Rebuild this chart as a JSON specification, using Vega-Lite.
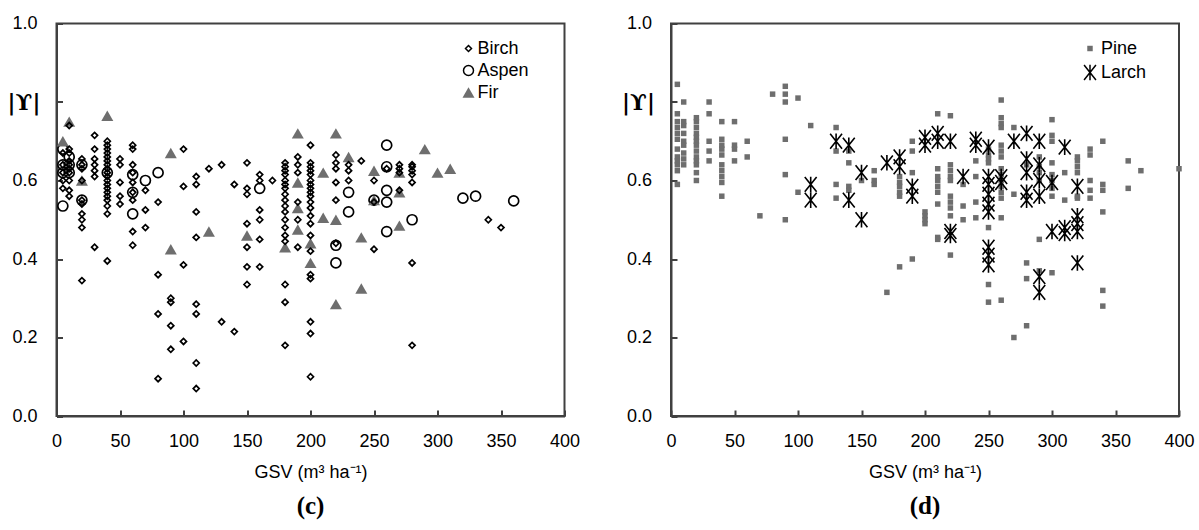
{
  "$schema": "https://vega.github.io/schema/vega-lite/v6.json",
  "background": "white",
  "padding": {"left": 5.5, "top": 13.5, "right": 0, "bottom": 0},
  "bounds": "flush",
  "spacing": 106.5,
  "resolve": {
    "scale": {"x": "independent", "y": "independent", "shape": "independent", "fill": "independent", "stroke": "independent", "size": "independent"},
    "legend": {"shape": "independent", "fill": "independent", "stroke": "independent", "size": "independent"}
  },
  "config": {
    "font": "Liberation Sans",
    "view": {"stroke": "#404040", "strokeWidth": 2},
    "axis": {
      "grid": false,
      "labelFlush": false,
      "domainColor": "#404040",
      "domainWidth": 2,
      "tickColor": "#404040",
      "tickWidth": 2,
      "tickSize": -6,
      "labelFont": "Liberation Sans",
      "labelFontSize": 18,
      "labelColor": "black",
      "titleFont": "Liberation Sans",
      "titleFontSize": 18,
      "titleFontWeight": "normal",
      "titleColor": "black"
    }
  },
  "hconcat": [
    {
      "width": 508,
      "height": 392.5,
      "title": {"text": "(c)", "orient": "bottom", "font": "Liberation Serif", "fontSize": 25, "fontWeight": "bold", "color": "black", "offset": 13, "anchor": "middle"},
      "data": {"values": [
        {"gsv":5,"r":0.68,"species":"Aspen"},{"gsv":5,"r":0.64,"species":"Aspen"},{"gsv":5,"r":0.62,"species":"Aspen"},{"gsv":5,"r":0.535,"species":"Aspen"},
        {"gsv":10,"r":0.66,"species":"Aspen"},{"gsv":10,"r":0.64,"species":"Aspen"},{"gsv":10,"r":0.62,"species":"Aspen"},
        {"gsv":20,"r":0.64,"species":"Aspen"},{"gsv":20,"r":0.55,"species":"Aspen"},{"gsv":40,"r":0.62,"species":"Aspen"},
        {"gsv":60,"r":0.615,"species":"Aspen"},{"gsv":60,"r":0.57,"species":"Aspen"},{"gsv":60,"r":0.515,"species":"Aspen"},
        {"gsv":70,"r":0.6,"species":"Aspen"},{"gsv":80,"r":0.62,"species":"Aspen"},{"gsv":160,"r":0.58,"species":"Aspen"},
        {"gsv":220,"r":0.435,"species":"Aspen"},{"gsv":220,"r":0.39,"species":"Aspen"},{"gsv":230,"r":0.57,"species":"Aspen"},{"gsv":230,"r":0.52,"species":"Aspen"},
        {"gsv":250,"r":0.55,"species":"Aspen"},{"gsv":260,"r":0.69,"species":"Aspen"},{"gsv":260,"r":0.635,"species":"Aspen"},{"gsv":260,"r":0.575,"species":"Aspen"},
        {"gsv":260,"r":0.545,"species":"Aspen"},{"gsv":260,"r":0.47,"species":"Aspen"},{"gsv":280,"r":0.5,"species":"Aspen"},
        {"gsv":320,"r":0.555,"species":"Aspen"},{"gsv":330,"r":0.56,"species":"Aspen"},{"gsv":360,"r":0.548,"species":"Aspen"},

        {"gsv":5,"r":0.70,"species":"Fir"},{"gsv":10,"r":0.75,"species":"Fir"},{"gsv":20,"r":0.60,"species":"Fir"},{"gsv":40,"r":0.765,"species":"Fir"},
        {"gsv":90,"r":0.67,"species":"Fir"},{"gsv":90,"r":0.425,"species":"Fir"},{"gsv":120,"r":0.47,"species":"Fir"},{"gsv":150,"r":0.46,"species":"Fir"},
        {"gsv":180,"r":0.43,"species":"Fir"},{"gsv":190,"r":0.72,"species":"Fir"},{"gsv":190,"r":0.595,"species":"Fir"},{"gsv":190,"r":0.53,"species":"Fir"},
        {"gsv":190,"r":0.475,"species":"Fir"},{"gsv":200,"r":0.44,"species":"Fir"},{"gsv":200,"r":0.39,"species":"Fir"},{"gsv":210,"r":0.62,"species":"Fir"},
        {"gsv":210,"r":0.505,"species":"Fir"},{"gsv":220,"r":0.72,"species":"Fir"},{"gsv":220,"r":0.50,"species":"Fir"},{"gsv":220,"r":0.285,"species":"Fir"},
        {"gsv":230,"r":0.66,"species":"Fir"},{"gsv":240,"r":0.455,"species":"Fir"},{"gsv":240,"r":0.325,"species":"Fir"},{"gsv":250,"r":0.625,"species":"Fir"},
        {"gsv":250,"r":0.55,"species":"Fir"},{"gsv":270,"r":0.62,"species":"Fir"},{"gsv":270,"r":0.57,"species":"Fir"},{"gsv":270,"r":0.485,"species":"Fir"},
        {"gsv":290,"r":0.68,"species":"Fir"},{"gsv":300,"r":0.62,"species":"Fir"},{"gsv":310,"r":0.63,"species":"Fir"},

        {"gsv":5,"r":0.67,"species":"Birch"},{"gsv":5,"r":0.64,"species":"Birch"},{"gsv":5,"r":0.62,"species":"Birch"},{"gsv":5,"r":0.60,"species":"Birch"},{"gsv":5,"r":0.58,"species":"Birch"},
        {"gsv":10,"r":0.74,"species":"Birch"},{"gsv":10,"r":0.68,"species":"Birch"},{"gsv":10,"r":0.67,"species":"Birch"},{"gsv":10,"r":0.65,"species":"Birch"},{"gsv":10,"r":0.64,"species":"Birch"},
        {"gsv":10,"r":0.63,"species":"Birch"},{"gsv":10,"r":0.62,"species":"Birch"},{"gsv":10,"r":0.60,"species":"Birch"},{"gsv":10,"r":0.575,"species":"Birch"},{"gsv":10,"r":0.56,"species":"Birch"},
        {"gsv":20,"r":0.655,"species":"Birch"},{"gsv":20,"r":0.64,"species":"Birch"},{"gsv":20,"r":0.63,"species":"Birch"},{"gsv":20,"r":0.60,"species":"Birch"},{"gsv":20,"r":0.55,"species":"Birch"},
        {"gsv":20,"r":0.54,"species":"Birch"},{"gsv":20,"r":0.515,"species":"Birch"},{"gsv":20,"r":0.50,"species":"Birch"},{"gsv":20,"r":0.48,"species":"Birch"},{"gsv":20,"r":0.345,"species":"Birch"},
        {"gsv":30,"r":0.715,"species":"Birch"},{"gsv":30,"r":0.68,"species":"Birch"},{"gsv":30,"r":0.655,"species":"Birch"},{"gsv":30,"r":0.64,"species":"Birch"},{"gsv":30,"r":0.625,"species":"Birch"},
        {"gsv":30,"r":0.61,"species":"Birch"},{"gsv":30,"r":0.43,"species":"Birch"},
        {"gsv":40,"r":0.70,"species":"Birch"},{"gsv":40,"r":0.69,"species":"Birch"},{"gsv":40,"r":0.68,"species":"Birch"},{"gsv":40,"r":0.67,"species":"Birch"},{"gsv":40,"r":0.66,"species":"Birch"},
        {"gsv":40,"r":0.65,"species":"Birch"},{"gsv":40,"r":0.64,"species":"Birch"},{"gsv":40,"r":0.63,"species":"Birch"},{"gsv":40,"r":0.62,"species":"Birch"},{"gsv":40,"r":0.61,"species":"Birch"},
        {"gsv":40,"r":0.60,"species":"Birch"},{"gsv":40,"r":0.59,"species":"Birch"},{"gsv":40,"r":0.58,"species":"Birch"},{"gsv":40,"r":0.57,"species":"Birch"},{"gsv":40,"r":0.56,"species":"Birch"},
        {"gsv":40,"r":0.55,"species":"Birch"},{"gsv":40,"r":0.535,"species":"Birch"},{"gsv":40,"r":0.515,"species":"Birch"},{"gsv":40,"r":0.395,"species":"Birch"},
        {"gsv":50,"r":0.655,"species":"Birch"},{"gsv":50,"r":0.64,"species":"Birch"},{"gsv":50,"r":0.595,"species":"Birch"},{"gsv":50,"r":0.56,"species":"Birch"},{"gsv":50,"r":0.54,"species":"Birch"},
        {"gsv":60,"r":0.69,"species":"Birch"},{"gsv":60,"r":0.68,"species":"Birch"},{"gsv":60,"r":0.64,"species":"Birch"},{"gsv":60,"r":0.62,"species":"Birch"},{"gsv":60,"r":0.595,"species":"Birch"},
        {"gsv":60,"r":0.57,"species":"Birch"},{"gsv":60,"r":0.55,"species":"Birch"},{"gsv":60,"r":0.47,"species":"Birch"},{"gsv":60,"r":0.435,"species":"Birch"},
        {"gsv":70,"r":0.575,"species":"Birch"},{"gsv":70,"r":0.525,"species":"Birch"},{"gsv":70,"r":0.48,"species":"Birch"},
        {"gsv":80,"r":0.545,"species":"Birch"},{"gsv":80,"r":0.36,"species":"Birch"},{"gsv":80,"r":0.26,"species":"Birch"},{"gsv":80,"r":0.095,"species":"Birch"},
        {"gsv":90,"r":0.30,"species":"Birch"},{"gsv":90,"r":0.29,"species":"Birch"},{"gsv":90,"r":0.23,"species":"Birch"},{"gsv":90,"r":0.17,"species":"Birch"},
        {"gsv":100,"r":0.68,"species":"Birch"},{"gsv":100,"r":0.585,"species":"Birch"},{"gsv":100,"r":0.385,"species":"Birch"},{"gsv":100,"r":0.19,"species":"Birch"},
        {"gsv":110,"r":0.61,"species":"Birch"},{"gsv":110,"r":0.59,"species":"Birch"},{"gsv":110,"r":0.52,"species":"Birch"},{"gsv":110,"r":0.455,"species":"Birch"},
        {"gsv":110,"r":0.285,"species":"Birch"},{"gsv":110,"r":0.26,"species":"Birch"},{"gsv":110,"r":0.135,"species":"Birch"},{"gsv":110,"r":0.07,"species":"Birch"},
        {"gsv":120,"r":0.63,"species":"Birch"},{"gsv":130,"r":0.64,"species":"Birch"},{"gsv":130,"r":0.24,"species":"Birch"},{"gsv":140,"r":0.59,"species":"Birch"},{"gsv":140,"r":0.215,"species":"Birch"},
        {"gsv":150,"r":0.645,"species":"Birch"},{"gsv":150,"r":0.58,"species":"Birch"},{"gsv":150,"r":0.565,"species":"Birch"},{"gsv":150,"r":0.49,"species":"Birch"},
        {"gsv":150,"r":0.43,"species":"Birch"},{"gsv":150,"r":0.38,"species":"Birch"},{"gsv":150,"r":0.335,"species":"Birch"},
        {"gsv":160,"r":0.615,"species":"Birch"},{"gsv":160,"r":0.60,"species":"Birch"},{"gsv":160,"r":0.525,"species":"Birch"},{"gsv":160,"r":0.50,"species":"Birch"},
        {"gsv":160,"r":0.45,"species":"Birch"},{"gsv":160,"r":0.38,"species":"Birch"},{"gsv":170,"r":0.60,"species":"Birch"},
        {"gsv":180,"r":0.645,"species":"Birch"},{"gsv":180,"r":0.635,"species":"Birch"},{"gsv":180,"r":0.625,"species":"Birch"},{"gsv":180,"r":0.615,"species":"Birch"},
        {"gsv":180,"r":0.60,"species":"Birch"},{"gsv":180,"r":0.59,"species":"Birch"},{"gsv":180,"r":0.58,"species":"Birch"},{"gsv":180,"r":0.565,"species":"Birch"},
        {"gsv":180,"r":0.55,"species":"Birch"},{"gsv":180,"r":0.535,"species":"Birch"},{"gsv":180,"r":0.52,"species":"Birch"},{"gsv":180,"r":0.50,"species":"Birch"},
        {"gsv":180,"r":0.48,"species":"Birch"},{"gsv":180,"r":0.46,"species":"Birch"},{"gsv":180,"r":0.445,"species":"Birch"},{"gsv":180,"r":0.335,"species":"Birch"},
        {"gsv":180,"r":0.29,"species":"Birch"},{"gsv":180,"r":0.18,"species":"Birch"},
        {"gsv":190,"r":0.66,"species":"Birch"},{"gsv":190,"r":0.64,"species":"Birch"},{"gsv":190,"r":0.62,"species":"Birch"},{"gsv":190,"r":0.545,"species":"Birch"},
        {"gsv":190,"r":0.50,"species":"Birch"},{"gsv":190,"r":0.43,"species":"Birch"},
        {"gsv":200,"r":0.69,"species":"Birch"},{"gsv":200,"r":0.645,"species":"Birch"},{"gsv":200,"r":0.635,"species":"Birch"},{"gsv":200,"r":0.625,"species":"Birch"},
        {"gsv":200,"r":0.615,"species":"Birch"},{"gsv":200,"r":0.60,"species":"Birch"},{"gsv":200,"r":0.59,"species":"Birch"},{"gsv":200,"r":0.58,"species":"Birch"},
        {"gsv":200,"r":0.57,"species":"Birch"},{"gsv":200,"r":0.56,"species":"Birch"},{"gsv":200,"r":0.545,"species":"Birch"},{"gsv":200,"r":0.53,"species":"Birch"},
        {"gsv":200,"r":0.51,"species":"Birch"},{"gsv":200,"r":0.49,"species":"Birch"},{"gsv":200,"r":0.46,"species":"Birch"},{"gsv":200,"r":0.42,"species":"Birch"},
        {"gsv":200,"r":0.36,"species":"Birch"},{"gsv":200,"r":0.35,"species":"Birch"},{"gsv":200,"r":0.24,"species":"Birch"},{"gsv":200,"r":0.21,"species":"Birch"},
        {"gsv":200,"r":0.10,"species":"Birch"},
        {"gsv":220,"r":0.665,"species":"Birch"},{"gsv":220,"r":0.645,"species":"Birch"},{"gsv":220,"r":0.63,"species":"Birch"},{"gsv":220,"r":0.595,"species":"Birch"},
        {"gsv":220,"r":0.55,"species":"Birch"},{"gsv":220,"r":0.44,"species":"Birch"},
        {"gsv":230,"r":0.64,"species":"Birch"},{"gsv":230,"r":0.625,"species":"Birch"},{"gsv":230,"r":0.60,"species":"Birch"},{"gsv":240,"r":0.65,"species":"Birch"},
        {"gsv":250,"r":0.60,"species":"Birch"},{"gsv":250,"r":0.545,"species":"Birch"},{"gsv":250,"r":0.425,"species":"Birch"},{"gsv":260,"r":0.63,"species":"Birch"},
        {"gsv":270,"r":0.64,"species":"Birch"},{"gsv":270,"r":0.63,"species":"Birch"},{"gsv":270,"r":0.62,"species":"Birch"},{"gsv":270,"r":0.575,"species":"Birch"},
        {"gsv":280,"r":0.64,"species":"Birch"},{"gsv":280,"r":0.635,"species":"Birch"},{"gsv":280,"r":0.625,"species":"Birch"},{"gsv":280,"r":0.615,"species":"Birch"},
        {"gsv":280,"r":0.595,"species":"Birch"},{"gsv":280,"r":0.39,"species":"Birch"},{"gsv":280,"r":0.18,"species":"Birch"},
        {"gsv":340,"r":0.50,"species":"Birch"},{"gsv":350,"r":0.48,"species":"Birch"}
      ]},
      "mark": {"type": "point", "filled": true, "strokeWidth": 1.7, "opacity": 1},
      "encoding": {
        "x": {"field": "gsv", "type": "quantitative", "scale": {"domain": [0, 400], "nice": false},
              "axis": {"values": [0, 50, 100, 150, 200, 250, 300, 350, 400], "title": "GSV (m³ ha⁻¹)", "labelPadding": 22, "titlePadding": 13}},
        "y": {"field": "r", "type": "quantitative", "scale": {"domain": [0, 1], "nice": false},
              "axis": {"values": [0, 0.2, 0.4, 0.6, 0.8, 1], "labelExpr": "abs(datum.value - 0.8) < 0.01 ? '' : format(datum.value, '.1f')", "labelPadding": 25.5,
                       "title": "|ϒ|", "titleAngle": 0, "titleX": -33, "titleY": 79, "titleAlign": "center", "titleBaseline": "middle",
                       "titleFont": "DejaVu Serif", "titleFontWeight": "bold", "titleFontSize": 22}},
        "shape": {"field": "species", "type": "nominal", "scale": {"domain": ["Birch", "Aspen", "Fir"], "range": ["diamond", "circle", "triangle-up"]},
                  "legend": {"title": null, "orient": "none", "legendX": 403, "legendY": 16, "labelFontSize": 18, "labelFont": "Liberation Sans", "labelColor": "black", "rowPadding": 4, "symbolStrokeWidth": 1.5, "labelOffset": 0, "padding": 0}},
        "fill": {"field": "species", "type": "nominal", "scale": {"domain": ["Birch", "Aspen", "Fir"], "range": ["transparent", "transparent", "#6e6e6e"]}},
        "stroke": {"field": "species", "type": "nominal", "scale": {"domain": ["Birch", "Aspen", "Fir"], "range": ["#000000", "#000000", "transparent"]}},
        "size": {"field": "species", "type": "nominal", "scale": {"type": "ordinal", "domain": ["Birch", "Aspen", "Fir"], "range": [36, 100, 144]}}
      }
    },
    {
      "width": 508,
      "height": 392.5,
      "title": {"text": "(d)", "orient": "bottom", "font": "Liberation Serif", "fontSize": 25, "fontWeight": "bold", "color": "black", "offset": 13, "anchor": "middle"},
      "data": {"values": [
        {"gsv":5,"r":0.845,"species":"Pine"},{"gsv":5,"r":0.77,"species":"Pine"},{"gsv":5,"r":0.75,"species":"Pine"},{"gsv":5,"r":0.735,"species":"Pine"},{"gsv":5,"r":0.72,"species":"Pine"},
        {"gsv":5,"r":0.705,"species":"Pine"},{"gsv":5,"r":0.68,"species":"Pine"},{"gsv":5,"r":0.66,"species":"Pine"},{"gsv":5,"r":0.65,"species":"Pine"},{"gsv":5,"r":0.64,"species":"Pine"},
        {"gsv":5,"r":0.625,"species":"Pine"},{"gsv":5,"r":0.59,"species":"Pine"},
        {"gsv":10,"r":0.80,"species":"Pine"},{"gsv":10,"r":0.75,"species":"Pine"},{"gsv":10,"r":0.74,"species":"Pine"},{"gsv":10,"r":0.72,"species":"Pine"},{"gsv":10,"r":0.70,"species":"Pine"},
        {"gsv":10,"r":0.69,"species":"Pine"},{"gsv":10,"r":0.67,"species":"Pine"},{"gsv":10,"r":0.655,"species":"Pine"},{"gsv":10,"r":0.64,"species":"Pine"},
        {"gsv":20,"r":0.76,"species":"Pine"},{"gsv":20,"r":0.75,"species":"Pine"},{"gsv":20,"r":0.735,"species":"Pine"},{"gsv":20,"r":0.72,"species":"Pine"},{"gsv":20,"r":0.71,"species":"Pine"},
        {"gsv":20,"r":0.70,"species":"Pine"},{"gsv":20,"r":0.69,"species":"Pine"},{"gsv":20,"r":0.675,"species":"Pine"},{"gsv":20,"r":0.66,"species":"Pine"},{"gsv":20,"r":0.65,"species":"Pine"},
        {"gsv":20,"r":0.64,"species":"Pine"},{"gsv":20,"r":0.62,"species":"Pine"},{"gsv":20,"r":0.60,"species":"Pine"},
        {"gsv":30,"r":0.80,"species":"Pine"},{"gsv":30,"r":0.77,"species":"Pine"},{"gsv":30,"r":0.70,"species":"Pine"},{"gsv":30,"r":0.675,"species":"Pine"},{"gsv":30,"r":0.65,"species":"Pine"},
        {"gsv":40,"r":0.75,"species":"Pine"},{"gsv":40,"r":0.705,"species":"Pine"},{"gsv":40,"r":0.69,"species":"Pine"},{"gsv":40,"r":0.68,"species":"Pine"},{"gsv":40,"r":0.665,"species":"Pine"},
        {"gsv":40,"r":0.64,"species":"Pine"},{"gsv":40,"r":0.625,"species":"Pine"},{"gsv":40,"r":0.61,"species":"Pine"},{"gsv":40,"r":0.595,"species":"Pine"},{"gsv":40,"r":0.56,"species":"Pine"},
        {"gsv":50,"r":0.75,"species":"Pine"},{"gsv":50,"r":0.69,"species":"Pine"},{"gsv":50,"r":0.68,"species":"Pine"},{"gsv":50,"r":0.65,"species":"Pine"},
        {"gsv":60,"r":0.70,"species":"Pine"},{"gsv":60,"r":0.66,"species":"Pine"},{"gsv":70,"r":0.51,"species":"Pine"},{"gsv":80,"r":0.82,"species":"Pine"},
        {"gsv":90,"r":0.84,"species":"Pine"},{"gsv":90,"r":0.82,"species":"Pine"},{"gsv":90,"r":0.80,"species":"Pine"},{"gsv":90,"r":0.705,"species":"Pine"},{"gsv":90,"r":0.615,"species":"Pine"},{"gsv":90,"r":0.50,"species":"Pine"},
        {"gsv":100,"r":0.81,"species":"Pine"},{"gsv":100,"r":0.57,"species":"Pine"},{"gsv":110,"r":0.74,"species":"Pine"},
        {"gsv":130,"r":0.735,"species":"Pine"},{"gsv":130,"r":0.675,"species":"Pine"},{"gsv":130,"r":0.59,"species":"Pine"},{"gsv":130,"r":0.555,"species":"Pine"},
        {"gsv":140,"r":0.675,"species":"Pine"},{"gsv":140,"r":0.645,"species":"Pine"},{"gsv":140,"r":0.585,"species":"Pine"},{"gsv":140,"r":0.575,"species":"Pine"},
        {"gsv":150,"r":0.60,"species":"Pine"},{"gsv":160,"r":0.625,"species":"Pine"},{"gsv":160,"r":0.60,"species":"Pine"},{"gsv":160,"r":0.59,"species":"Pine"},{"gsv":170,"r":0.315,"species":"Pine"},
        {"gsv":180,"r":0.61,"species":"Pine"},{"gsv":180,"r":0.595,"species":"Pine"},{"gsv":180,"r":0.585,"species":"Pine"},{"gsv":180,"r":0.57,"species":"Pine"},{"gsv":180,"r":0.56,"species":"Pine"},{"gsv":180,"r":0.38,"species":"Pine"},
        {"gsv":190,"r":0.70,"species":"Pine"},{"gsv":190,"r":0.675,"species":"Pine"},{"gsv":190,"r":0.62,"species":"Pine"},{"gsv":190,"r":0.40,"species":"Pine"},
        {"gsv":200,"r":0.52,"species":"Pine"},{"gsv":200,"r":0.51,"species":"Pine"},{"gsv":200,"r":0.50,"species":"Pine"},{"gsv":200,"r":0.49,"species":"Pine"},
        {"gsv":210,"r":0.77,"species":"Pine"},{"gsv":210,"r":0.63,"species":"Pine"},{"gsv":210,"r":0.61,"species":"Pine"},{"gsv":210,"r":0.60,"species":"Pine"},{"gsv":210,"r":0.585,"species":"Pine"},
        {"gsv":210,"r":0.57,"species":"Pine"},{"gsv":210,"r":0.54,"species":"Pine"},{"gsv":210,"r":0.455,"species":"Pine"},{"gsv":210,"r":0.45,"species":"Pine"},
        {"gsv":220,"r":0.765,"species":"Pine"},{"gsv":220,"r":0.64,"species":"Pine"},{"gsv":220,"r":0.625,"species":"Pine"},{"gsv":220,"r":0.61,"species":"Pine"},{"gsv":220,"r":0.60,"species":"Pine"},
        {"gsv":220,"r":0.56,"species":"Pine"},{"gsv":220,"r":0.545,"species":"Pine"},{"gsv":220,"r":0.53,"species":"Pine"},{"gsv":220,"r":0.51,"species":"Pine"},{"gsv":220,"r":0.41,"species":"Pine"},
        {"gsv":230,"r":0.59,"species":"Pine"},{"gsv":230,"r":0.535,"species":"Pine"},{"gsv":230,"r":0.50,"species":"Pine"},
        {"gsv":240,"r":0.65,"species":"Pine"},{"gsv":240,"r":0.61,"species":"Pine"},{"gsv":240,"r":0.545,"species":"Pine"},{"gsv":240,"r":0.505,"species":"Pine"},
        {"gsv":250,"r":0.68,"species":"Pine"},{"gsv":250,"r":0.665,"species":"Pine"},{"gsv":250,"r":0.655,"species":"Pine"},{"gsv":250,"r":0.645,"species":"Pine"},{"gsv":250,"r":0.48,"species":"Pine"},
        {"gsv":250,"r":0.335,"species":"Pine"},{"gsv":250,"r":0.29,"species":"Pine"},
        {"gsv":260,"r":0.805,"species":"Pine"},{"gsv":260,"r":0.76,"species":"Pine"},{"gsv":260,"r":0.745,"species":"Pine"},{"gsv":260,"r":0.735,"species":"Pine"},{"gsv":260,"r":0.69,"species":"Pine"},
        {"gsv":260,"r":0.675,"species":"Pine"},{"gsv":260,"r":0.66,"species":"Pine"},{"gsv":260,"r":0.63,"species":"Pine"},{"gsv":260,"r":0.615,"species":"Pine"},{"gsv":260,"r":0.60,"species":"Pine"},
        {"gsv":260,"r":0.585,"species":"Pine"},{"gsv":260,"r":0.57,"species":"Pine"},{"gsv":260,"r":0.555,"species":"Pine"},{"gsv":260,"r":0.505,"species":"Pine"},{"gsv":260,"r":0.295,"species":"Pine"},
        {"gsv":270,"r":0.735,"species":"Pine"},{"gsv":270,"r":0.565,"species":"Pine"},{"gsv":270,"r":0.20,"species":"Pine"},
        {"gsv":280,"r":0.64,"species":"Pine"},{"gsv":280,"r":0.39,"species":"Pine"},{"gsv":280,"r":0.35,"species":"Pine"},{"gsv":280,"r":0.23,"species":"Pine"},
        {"gsv":290,"r":0.66,"species":"Pine"},{"gsv":290,"r":0.635,"species":"Pine"},{"gsv":290,"r":0.62,"species":"Pine"},{"gsv":290,"r":0.60,"species":"Pine"},{"gsv":290,"r":0.45,"species":"Pine"},{"gsv":290,"r":0.37,"species":"Pine"},
        {"gsv":300,"r":0.755,"species":"Pine"},{"gsv":300,"r":0.715,"species":"Pine"},{"gsv":300,"r":0.70,"species":"Pine"},{"gsv":300,"r":0.645,"species":"Pine"},{"gsv":300,"r":0.615,"species":"Pine"},
        {"gsv":300,"r":0.60,"species":"Pine"},{"gsv":300,"r":0.58,"species":"Pine"},{"gsv":300,"r":0.56,"species":"Pine"},{"gsv":300,"r":0.365,"species":"Pine"},
        {"gsv":310,"r":0.62,"species":"Pine"},{"gsv":310,"r":0.55,"species":"Pine"},
        {"gsv":320,"r":0.66,"species":"Pine"},{"gsv":320,"r":0.65,"species":"Pine"},{"gsv":320,"r":0.635,"species":"Pine"},{"gsv":320,"r":0.62,"species":"Pine"},{"gsv":320,"r":0.56,"species":"Pine"},{"gsv":320,"r":0.555,"species":"Pine"},
        {"gsv":330,"r":0.68,"species":"Pine"},{"gsv":330,"r":0.665,"species":"Pine"},{"gsv":330,"r":0.60,"species":"Pine"},{"gsv":330,"r":0.575,"species":"Pine"},{"gsv":330,"r":0.555,"species":"Pine"},
        {"gsv":340,"r":0.70,"species":"Pine"},{"gsv":340,"r":0.59,"species":"Pine"},{"gsv":340,"r":0.575,"species":"Pine"},{"gsv":340,"r":0.52,"species":"Pine"},{"gsv":340,"r":0.32,"species":"Pine"},{"gsv":340,"r":0.28,"species":"Pine"},
        {"gsv":360,"r":0.65,"species":"Pine"},{"gsv":360,"r":0.58,"species":"Pine"},{"gsv":370,"r":0.625,"species":"Pine"},{"gsv":400,"r":0.63,"species":"Pine"},

        {"gsv":110,"r":0.59,"species":"Larch"},{"gsv":110,"r":0.55,"species":"Larch"},{"gsv":130,"r":0.70,"species":"Larch"},{"gsv":140,"r":0.69,"species":"Larch"},{"gsv":140,"r":0.55,"species":"Larch"},
        {"gsv":150,"r":0.62,"species":"Larch"},{"gsv":150,"r":0.50,"species":"Larch"},{"gsv":170,"r":0.645,"species":"Larch"},{"gsv":180,"r":0.66,"species":"Larch"},{"gsv":180,"r":0.635,"species":"Larch"},
        {"gsv":190,"r":0.585,"species":"Larch"},{"gsv":190,"r":0.56,"species":"Larch"},{"gsv":200,"r":0.71,"species":"Larch"},{"gsv":200,"r":0.69,"species":"Larch"},{"gsv":210,"r":0.72,"species":"Larch"},
        {"gsv":210,"r":0.70,"species":"Larch"},{"gsv":220,"r":0.70,"species":"Larch"},{"gsv":220,"r":0.47,"species":"Larch"},{"gsv":220,"r":0.46,"species":"Larch"},{"gsv":230,"r":0.61,"species":"Larch"},
        {"gsv":240,"r":0.705,"species":"Larch"},{"gsv":240,"r":0.69,"species":"Larch"},{"gsv":250,"r":0.685,"species":"Larch"},{"gsv":250,"r":0.61,"species":"Larch"},{"gsv":250,"r":0.59,"species":"Larch"},
        {"gsv":250,"r":0.565,"species":"Larch"},{"gsv":250,"r":0.54,"species":"Larch"},{"gsv":250,"r":0.52,"species":"Larch"},{"gsv":250,"r":0.43,"species":"Larch"},{"gsv":250,"r":0.41,"species":"Larch"},
        {"gsv":250,"r":0.385,"species":"Larch"},{"gsv":260,"r":0.61,"species":"Larch"},{"gsv":260,"r":0.595,"species":"Larch"},{"gsv":270,"r":0.70,"species":"Larch"},{"gsv":280,"r":0.72,"species":"Larch"},
        {"gsv":280,"r":0.655,"species":"Larch"},{"gsv":280,"r":0.62,"species":"Larch"},{"gsv":280,"r":0.57,"species":"Larch"},{"gsv":280,"r":0.55,"species":"Larch"},{"gsv":290,"r":0.70,"species":"Larch"},
        {"gsv":290,"r":0.64,"species":"Larch"},{"gsv":290,"r":0.60,"species":"Larch"},{"gsv":290,"r":0.56,"species":"Larch"},{"gsv":290,"r":0.355,"species":"Larch"},{"gsv":290,"r":0.315,"species":"Larch"},
        {"gsv":300,"r":0.595,"species":"Larch"},{"gsv":300,"r":0.47,"species":"Larch"},{"gsv":310,"r":0.685,"species":"Larch"},{"gsv":310,"r":0.48,"species":"Larch"},{"gsv":310,"r":0.465,"species":"Larch"},
        {"gsv":320,"r":0.585,"species":"Larch"},{"gsv":320,"r":0.51,"species":"Larch"},{"gsv":320,"r":0.49,"species":"Larch"},{"gsv":320,"r":0.47,"species":"Larch"},{"gsv":320,"r":0.39,"species":"Larch"}
      ]},
      "mark": {"type": "point", "filled": true, "strokeWidth": 1.6, "opacity": 1},
      "encoding": {
        "x": {"field": "gsv", "type": "quantitative", "scale": {"domain": [0, 400], "nice": false},
              "axis": {"values": [0, 50, 100, 150, 200, 250, 300, 350, 400], "title": "GSV (m³ ha⁻¹)", "labelPadding": 22, "titlePadding": 13}},
        "y": {"field": "r", "type": "quantitative", "scale": {"domain": [0, 1], "nice": false},
              "axis": {"values": [0, 0.2, 0.4, 0.6, 0.8, 1], "labelExpr": "abs(datum.value - 0.8) < 0.01 ? '' : format(datum.value, '.1f')", "labelPadding": 25.5,
                       "title": "|ϒ|", "titleAngle": 0, "titleX": -33, "titleY": 79, "titleAlign": "center", "titleBaseline": "middle",
                       "titleFont": "DejaVu Serif", "titleFontWeight": "bold", "titleFontSize": 22}},
        "shape": {"field": "species", "type": "nominal", "scale": {"domain": ["Pine", "Larch"], "range": ["square", "M-0.8,-1L0.8,1M-0.8,1L0.8,-1M0,-1.05L0,1.05"]},
                  "legend": {"title": null, "orient": "none", "legendX": 410, "legendY": 16, "labelFontSize": 18, "labelFont": "Liberation Sans", "labelColor": "black", "rowPadding": 4, "symbolStrokeWidth": 1.5, "labelOffset": 2, "padding": 0}},
        "fill": {"field": "species", "type": "nominal", "scale": {"domain": ["Pine", "Larch"], "range": ["#6e6e6e", "transparent"]}},
        "stroke": {"field": "species", "type": "nominal", "scale": {"domain": ["Pine", "Larch"], "range": ["transparent", "#000000"]}},
        "size": {"field": "species", "type": "nominal", "scale": {"type": "ordinal", "domain": ["Pine", "Larch"], "range": [30, 220]}}
      }
    }
  ]
}
